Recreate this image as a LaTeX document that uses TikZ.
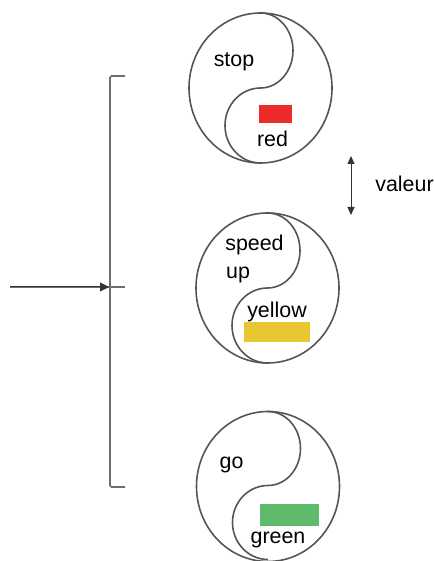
\documentclass[tikz,border=0pt]{standalone}
\usepackage{fontspec}
\setmainfont{Liberation Sans}
\usepackage{tikz}
\usetikzlibrary{arrows.meta,shapes.geometric,positioning}
\usepackage{xcolor}
\definecolor{ylgray}{RGB}{85,85,85}
\definecolor{ylred}{RGB}{238,43,43}
\definecolor{ylyellow}{RGB}{230,199,47}
\definecolor{ylgreen}{RGB}{93,187,107}
\tikzstyle{disc} = [ellipse, draw=ylgray, line width=1.6pt, minimum width=143pt, minimum height=150pt, inner sep=0pt, outer sep=0pt]
\tikzstyle{swatch} = [rectangle, inner sep=0pt, outer sep=0pt]
\tikzstyle{label} = [font=\fontsize{21.4}{25}\selectfont, anchor=base, inner sep=0pt]
\tikzstyle{wave} = [draw=ylgray, line width=1.6pt]
\tikzstyle{rail} = [draw=ylgray!85, line width=1.7pt]
\tikzstyle{arrow} = [black!80, line width=1pt]

\begin{document}
\begin{tikzpicture}[x=1pt,y=1pt]
\useasboundingbox (0,0) rectangle (435,561);

% Discs
\node[disc] (discstop) at (260.5,473) {};
\node[disc] (discspeed) at (267.5,273) {};
\node[disc] (discgo) at (268,74.5) {};
\foreach \d/\ry in {discstop/37.5, discspeed/37.5, discgo/37}
  \draw[wave] (\d.north) arc[start angle=90, end angle=-90, x radius=32.5, y radius=\ry]
    arc[start angle=90, end angle=270, x radius=35.5, y radius=\ry];

% Swatches
\node[swatch, fill=ylred, minimum width=33pt, minimum height=18pt] (redbox) at (275.5,447) {};
\node[swatch, fill=ylyellow, minimum width=66pt, minimum height=20pt] (yellowbox) at (277,229) {};
\node[swatch, fill=ylgreen, minimum width=59pt, minimum height=22pt] (greenbox) at (289.5,46) {};

% Labels
\node[label] (stop) at (234,494.5) {stop};
\node[label] (red) at (272.5,414.5) {red};
\node[label] (speed) at (254.5,310) {speed};
\node[label, anchor=base west] (up) at (226,282) {up};
\node[label] (yellow) at (277,243.5) {yellow};
\node[label] (go) at (231.5,92.5) {go};
\node[label] (green) at (278,17.5) {green};
\node[label] (valeur) at (404.5,369) {valeur};

% Bracket
\coordinate (railtop) at (125,485);
\coordinate (railbot) at (125,74);
\coordinate (entry) at (10,274);
\coordinate (tick) at (125,274);
\coordinate (hit) at (109,274);
\draw[rail, rounded corners=1.5pt] (railtop) -- (110,485) -- (110,74) -- (railbot);
\draw[rail] (entry) -- (tick);
\draw[arrow, -{Triangle[length=9pt,width=9pt]}] (entry) -- (hit);

% Double arrow
\coordinate (valtop) at (351,405);
\coordinate (valbot) at (351,346);
\draw[arrow, {Triangle[length=8pt,width=7pt]}-{Triangle[length=8pt,width=7pt]}] (valtop) -- (valbot);
\end{tikzpicture}
\end{document}
